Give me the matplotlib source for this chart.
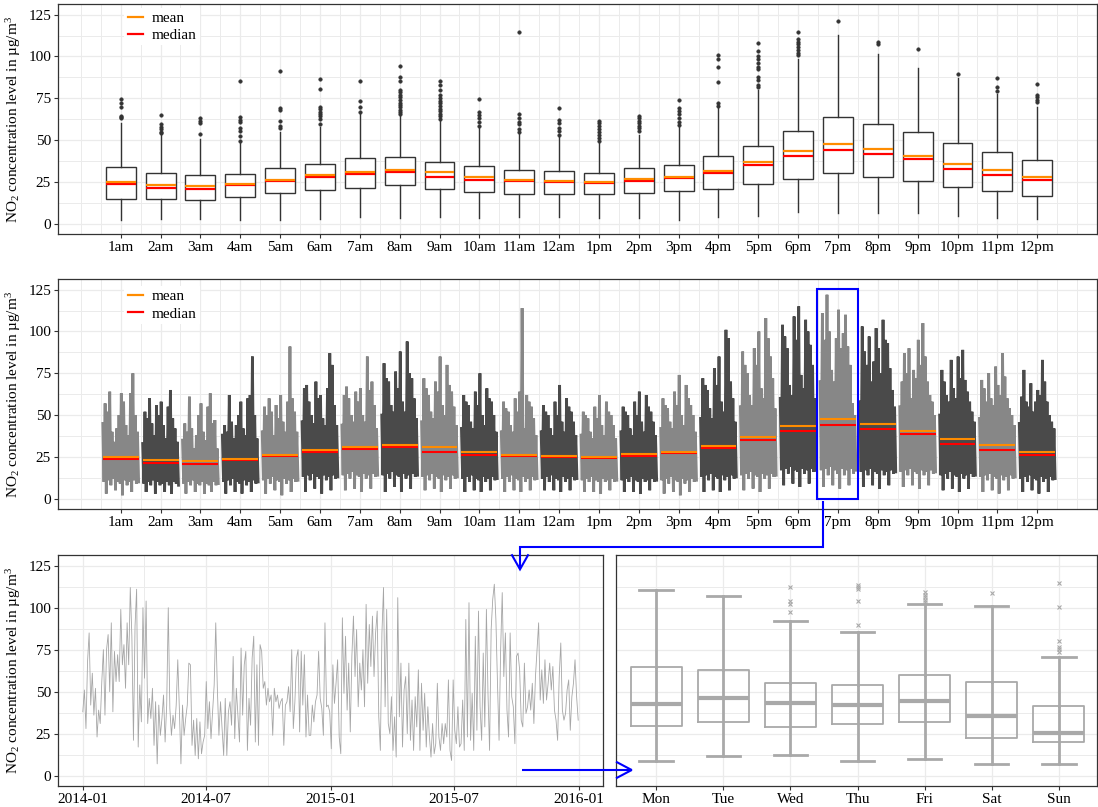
import numpy as np
import pandas as pd
import matplotlib
matplotlib.use('Agg')
import matplotlib.pyplot as plt
import matplotlib.dates as mdates
from matplotlib.lines import Line2D
from matplotlib.patches import Rectangle

plt.rcParams['font.family'] = ['Liberation Serif', 'DejaVu Serif']
plt.rcParams['mathtext.fontset'] = 'custom'
plt.rcParams['mathtext.rm'] = 'Liberation Serif'
plt.rcParams['mathtext.it'] = 'Liberation Serif:italic'

# ---------------- data ----------------
hours = ['1am', '2am', '3am', '4am', '5am', '6am', '7am', '8am', '9am', '10am', '11am', '12am',
         '1pm', '2pm', '3pm', '4pm', '5pm', '6pm', '7pm', '8pm', '9pm', '10pm', '11pm', '12pm']

hour_whislo = [2.0, 2.6, 3.0, 2.4, 2.2, 3.0, 4.2, 3.4, 4.0, 3.6, 3.8, 4.0,
               3.2, 3.2, 2.4, 4.0, 4.4, 7.0, 6.4, 6.2, 6.4, 4.4, 3.4, 2.8]
hour_q1 = [14.9, 14.5, 14.1, 15.9, 18.3, 19.9, 21.3, 23.1, 20.7, 18.9, 17.7, 17.7,
           17.9, 18.3, 19.5, 20.5, 23.7, 26.7, 30.3, 28.2, 25.5, 21.9, 19.3, 16.5]
hour_median = [23.7, 21.1, 20.5, 22.9, 25.5, 27.7, 29.7, 30.6, 28.2, 26.1, 25.3, 25.1,
               24.5, 25.7, 27.3, 30.3, 34.8, 40.2, 44.2, 41.8, 38.4, 32.8, 28.8, 25.9]
hour_mean = [25.1, 23.1, 22.3, 23.7, 26.3, 29.1, 30.9, 32.2, 30.6, 27.7, 26.1, 25.3,
             24.9, 26.5, 28.2, 31.6, 36.8, 43.6, 47.8, 44.8, 40.6, 35.8, 31.8, 28.2]
hour_q3 = [33.8, 30.3, 29.1, 29.7, 33.3, 35.6, 39.0, 39.8, 36.8, 34.4, 32.2, 31.4,
           30.3, 33.0, 35.2, 40.4, 46.2, 55.3, 63.5, 59.5, 54.7, 48.2, 43.0, 38.2]
hour_whishi = [60.1, 53.1, 50.9, 48.6, 55.1, 57.9, 65.5, 64.5, 62.1, 57.1, 54.1, 52.1,
               48.2, 53.1, 58.1, 69.7, 80.0, 98.3, 112.7, 101.3, 93.3, 87.4, 77.4, 70.0]
hour_outliers = [
    [63.3, 63.7, 64.5, 69.5, 72.1, 74.6],
    [54.4, 55.1, 56.7, 58.1, 59.5, 64.7],
    [53.5, 60.1, 61.7, 63.1],
    [49.7, 52.5, 55.7, 57.1, 60.7, 62.1, 63.7, 85.2],
    [57.5, 58.7, 61.5, 67.7, 69.1, 91.4],
    [59.7, 62.5, 64.1, 65.7, 67.0, 68.4, 69.7, 80.8, 86.6],
    [66.7, 70.0, 73.6, 85.2],
    [65.5, 66.8, 68.0, 69.5, 71.0, 72.4, 74.0, 75.5, 76.8, 78.6, 80.2, 85.6, 88.0, 94.5],
    [62.8, 64.2, 65.8, 67.2, 68.8, 70.4, 72.0, 73.6, 75.2, 77.0, 80.0, 83.0, 85.4],
    [58.5, 61.0, 63.0, 65.0, 66.7, 74.8],
    [54.8, 56.5, 59.5, 61.0, 63.3, 65.3, 114.4],
    [53.0, 55.5, 57.5, 60.5, 62.1, 68.9],
    [49.2, 51.0, 52.8, 54.6, 56.4, 58.2, 60.0, 61.5],
    [55.7, 57.0, 58.5, 60.0, 61.5, 63.0, 64.1],
    [58.9, 61.0, 63.2, 65.5, 67.4, 69.1, 74.0],
    [70.5, 72.1, 85.0, 93.6, 98.3, 100.9],
    [81.5, 82.9, 85.9, 87.9, 92.5, 93.9, 95.9, 98.3, 100.3, 103.3, 107.9],
    [100.7, 102.3, 103.9, 105.5, 107.3, 108.9, 110.4, 114.5],
    [121.2],
    [107.3, 108.7],
    [104.3],
    [89.8],
    [79.4, 81.6, 87.0],
    [72.7, 74.0, 75.5, 77.0, 83.4],
]

# per-hour daily series envelope (upper / lower samples across 2014-2015)
hour_series_hi = [
    [45, 57, 52, 64, 40, 34, 42, 50, 63, 58, 44, 38, 63, 75, 50, 40],
    [33, 52, 48, 60, 45, 38, 56, 50, 58, 44, 36, 55, 65, 48, 42, 34],
    [35, 45, 40, 61, 42, 30, 38, 50, 57, 40, 35, 55, 63, 45, 47, 30],
    [38, 44, 40, 62, 46, 36, 44, 50, 58, 42, 38, 60, 62, 85, 50, 36],
    [40, 55, 50, 60, 52, 38, 56, 48, 62, 46, 40, 58, 91, 60, 52, 40],
    [46, 66, 68, 58, 50, 45, 70, 60, 62, 48, 44, 66, 87, 80, 56, 44],
    [44, 62, 67, 60, 50, 46, 64, 58, 66, 50, 46, 85, 65, 70, 56, 42],
    [50, 81, 72, 70, 56, 52, 76, 66, 88, 58, 52, 94, 75, 72, 60, 48],
    [46, 72, 66, 62, 52, 48, 70, 64, 85, 56, 50, 80, 68, 64, 55, 44],
    [42, 62, 58, 56, 46, 42, 64, 56, 75, 50, 44, 66, 60, 58, 50, 40],
    [40, 58, 54, 52, 44, 40, 60, 52, 64, 114, 42, 62, 58, 55, 48, 38],
    [40, 56, 52, 50, 42, 38, 58, 50, 68, 46, 40, 60, 55, 52, 46, 38],
    [38, 52, 50, 48, 40, 36, 55, 48, 62, 44, 38, 58, 52, 50, 44, 36],
    [40, 55, 52, 50, 42, 38, 58, 50, 64, 46, 40, 62, 55, 52, 46, 38],
    [42, 60, 56, 54, 46, 42, 64, 56, 74, 50, 44, 68, 60, 56, 50, 40],
    [48, 72, 68, 65, 54, 48, 78, 68, 85, 58, 52, 101, 96, 70, 60, 46],
    [55, 88, 80, 75, 62, 56, 90, 80, 100, 66, 60, 108, 96, 85, 72, 54],
    [60, 104, 97, 90, 68, 62, 109, 95, 115, 74, 66, 107, 100, 92, 80, 60],
    [70, 111, 95, 122, 100, 77, 70, 96, 113, 90, 99, 110, 91, 80, 57, 50],
    [58, 103, 88, 80, 97, 70, 82, 102, 90, 75, 107, 95, 93, 78, 65, 55],
    [55, 70, 87, 75, 90, 60, 77, 72, 95, 80, 105, 85, 70, 62, 58, 50],
    [50, 77, 70, 62, 58, 83, 66, 60, 85, 72, 89, 71, 64, 58, 52, 46],
    [48, 71, 66, 58, 75, 60, 56, 79, 68, 62, 87, 73, 60, 54, 50, 44],
    [45, 61, 77, 58, 55, 69, 52, 58, 65, 62, 83, 70, 58, 50, 46, 42],
]
hour_series_lo = [
    [10, 3, 11, 8, 12, 5, 10, 9, 2, 11, 8, 10, 4, 11, 9, 10],
    [9, 4, 10, 8, 11, 3, 10, 8, 9, 4, 10, 8, 3, 10, 9, 8],
    [9, 3, 10, 8, 11, 4, 9, 8, 10, 3, 9, 8, 4, 10, 8, 9],
    [10, 3, 11, 8, 12, 4, 10, 9, 3, 11, 8, 10, 4, 11, 9, 10],
    [11, 3, 12, 9, 13, 5, 11, 10, 2, 12, 9, 11, 4, 12, 10, 11],
    [13, 4, 14, 11, 15, 6, 13, 12, 3, 14, 11, 13, 5, 14, 12, 13],
    [14, 5, 15, 12, 16, 6, 14, 13, 4, 15, 12, 14, 6, 15, 13, 14],
    [14, 4, 15, 12, 16, 7, 14, 13, 4, 15, 12, 14, 6, 15, 13, 14],
    [13, 5, 14, 11, 15, 6, 13, 12, 4, 14, 11, 13, 6, 14, 12, 13],
    [12, 4, 13, 10, 14, 5, 12, 11, 4, 13, 10, 12, 5, 13, 11, 12],
    [12, 4, 13, 10, 14, 5, 12, 11, 4, 13, 10, 12, 5, 13, 11, 12],
    [12, 5, 13, 10, 14, 5, 12, 11, 4, 13, 10, 12, 5, 13, 11, 12],
    [11, 4, 12, 10, 13, 4, 11, 10, 3, 12, 10, 11, 5, 12, 10, 11],
    [11, 4, 12, 10, 13, 4, 11, 10, 3, 12, 10, 11, 5, 12, 10, 11],
    [11, 3, 12, 9, 13, 4, 11, 10, 2, 12, 9, 11, 4, 12, 10, 11],
    [13, 4, 14, 11, 15, 5, 13, 12, 4, 14, 11, 13, 5, 14, 12, 13],
    [14, 5, 15, 12, 16, 6, 14, 13, 4, 15, 12, 14, 6, 15, 13, 14],
    [17, 8, 18, 15, 19, 9, 17, 16, 7, 18, 15, 17, 9, 18, 16, 17],
    [17, 7, 18, 14, 19, 8, 17, 15, 6, 18, 14, 17, 8, 18, 15, 17],
    [16, 7, 17, 14, 18, 8, 16, 15, 6, 17, 14, 16, 8, 17, 15, 16],
    [16, 7, 17, 14, 18, 8, 16, 15, 6, 17, 14, 16, 8, 17, 15, 16],
    [14, 5, 15, 12, 16, 6, 14, 13, 4, 15, 12, 14, 6, 15, 13, 14],
    [13, 4, 14, 11, 15, 5, 13, 12, 3, 14, 11, 13, 5, 14, 12, 13],
    [12, 4, 13, 10, 14, 5, 12, 11, 3, 13, 10, 12, 4, 13, 11, 12],
]

# 7pm daily series 2014-01-01 .. 2015-12-31 (sampled)
ts_start = '2014-01-01'
ts_end = '2015-12-31'
ts_values = [
    38, 51, 28, 68, 85, 42, 61, 36, 52, 23, 39, 31, 56, 75, 36, 75, 84, 50, 91, 38,
    74, 56, 72, 56, 99, 66, 78, 52, 91, 66, 112, 83, 21, 89, 111, 17, 54, 32, 100, 58,
    104, 31, 46, 34, 52, 18, 44, 7, 42, 24, 34, 48, 20, 42, 100, 40, 24, 36, 28, 42,
    69, 40, 7, 42, 24, 34, 42, 67, 66, 18, 33, 12, 34, 10, 32, 13, 20, 24, 56, 28,
    44, 22, 38, 54, 91, 52, 24, 44, 28, 12, 46, 12, 38, 44, 30, 71, 22, 52, 36, 20,
    76, 36, 66, 74, 15, 46, 30, 70, 83, 20, 66, 18, 78, 74, 52, 56, 42, 52, 44, 48,
    24, 52, 44, 48, 40, 44, 46, 18, 42, 44, 53, 38, 75, 28, 44, 70, 75, 26, 74, 42,
    72, 23, 48, 24, 24, 42, 32, 44, 48, 74, 46, 40, 24, 91, 41, 42, 38, 16, 66,
    43, 55, 69, 23, 13, 94, 49, 83, 39, 67, 26, 71, 95, 59, 87, 41, 67, 51, 75, 41,
    102, 55, 90, 65, 95, 59, 85, 98, 35, 15, 85, 112, 41, 99, 31, 25, 47, 15, 35, 11,
    106, 35, 67, 17, 51, 59, 25, 67, 21, 45, 15, 47, 29, 63, 15, 55, 27, 49, 17, 41,
    23, 11, 31, 13, 19, 55, 23, 15, 31, 19, 31, 23, 57, 15, 9, 57, 27, 19, 41, 17,
    19, 45, 15, 93, 23, 103, 21, 49, 15, 83, 27, 98, 41, 21, 73, 29, 99, 49, 15, 87,
    105, 114, 93, 55, 21, 75, 109, 59, 85, 39, 23, 85, 47, 41, 19, 71, 73, 63, 33, 29,
    67, 37, 41, 51, 39, 55, 31, 59, 75, 91, 45, 63, 43, 69, 45, 55, 67, 51, 65, 39,
    33, 21, 59, 79, 39, 33, 37, 51, 57, 27, 47, 55, 69, 47, 33,
]

# 7pm by weekday
weekdays = ['Mon', 'Tue', 'Wed', 'Thu', 'Fri', 'Sat', 'Sun']
wd_whislo = [8.9, 11.5, 12.1, 8.9, 9.9, 6.9, 6.9]
wd_q1 = [29.8, 31.8, 29.0, 30.6, 31.8, 22.2, 20.3]
wd_median = [42.7, 46.1, 43.1, 42.3, 44.3, 35.4, 25.6]
wd_q3 = [64.4, 62.8, 54.9, 54.0, 60.0, 55.6, 41.5]
wd_whishi = [110.5, 106.7, 92.2, 85.6, 102.0, 101.0, 70.4]
wd_outliers = [
    [],
    [],
    [97.6, 102.5, 104.1, 112.3],
    [89.6, 104.1, 110.9, 112.5, 113.5],
    [103.2, 104.5, 106.1, 107.7, 109.3],
    [108.7],
    [73.7, 75.3, 76.7, 80.3, 100.6, 114.5],
]

# ---------------- figure ----------------
W, H = 1098, 807
fig = plt.figure(figsize=(W / 100, H / 100), dpi=100)


def add_ax(l, t, r, b):
    return fig.add_axes([l / W, 1 - b / H, (r - l) / W, (b - t) / H])


ax1 = add_ax(58, 4, 1097, 234)
ax2 = add_ax(58, 279, 1097, 509)
ax3 = add_ax(58, 555, 603, 786)
ax4 = add_ax(616, 555, 1097, 786)

EDGE = '#333333'
GRID = '#EBEBEB'
ylabel = r'NO$_2$ concentration level in µg/m$^3$'
FS = 11


def style(ax):
    ax.set_axisbelow(True)
    for s in ax.spines.values():
        s.set_color(EDGE)
        s.set_linewidth(0.9)
    ax.tick_params(which='major', direction='out', length=3, width=0.8, color=EDGE,
                   labelsize=FS, labelcolor='black', pad=2)
    ax.tick_params(which='minor', length=0)
    ax.grid(which='major', color=GRID, lw=0.9)
    ax.grid(which='minor', color=GRID, lw=0.7)
    ax.set_ylim(-6.2, 131.4)
    ax.set_yticks([0, 25, 50, 75, 100, 125])
    ax.set_yticks(np.arange(12.5, 125, 25), minor=True)


pos = np.arange(1, len(hours) + 1)

# top: boxplots
stats = []
for i in range(len(hours)):
    stats.append(dict(med=hour_median[i], q1=hour_q1[i], q3=hour_q3[i],
                      whislo=hour_whislo[i], whishi=hour_whishi[i],
                      fliers=hour_outliers[i], mean=hour_mean[i]))
ax1.bxp(stats, positions=pos, widths=0.75, showcaps=False, showmeans=True, meanline=True,
        patch_artist=True, manage_ticks=False,
        boxprops=dict(facecolor='white', edgecolor=EDGE, linewidth=1.0),
        whiskerprops=dict(color=EDGE, linewidth=1.0),
        medianprops=dict(color='#FF0000', linewidth=1.6),
        meanprops=dict(color='#FF8C00', linewidth=1.6, linestyle='-'),
        flierprops=dict(marker='o', markersize=2.6, markerfacecolor=EDGE,
                        markeredgecolor=EDGE, markeredgewidth=0.3))

# middle: per-hour series blocks
for i in range(len(hours)):
    hi = hour_series_hi[i]
    lo = hour_series_lo[i]
    zig = np.ravel(np.column_stack([hi, lo]))
    xs = np.linspace(pos[i] - 0.45, pos[i] + 0.45, len(zig))
    col = '#878787' if i % 2 == 0 else '#4A4A4A'
    ax2.plot(xs, zig, color=col, lw=2.0, solid_joinstyle='miter', zorder=2)
ax2.hlines(hour_median, pos - 0.45, pos + 0.45, color='#FF0000', lw=1.5, zorder=3)
ax2.hlines(hour_mean, pos - 0.45, pos + 0.45, color='#FF8C00', lw=1.5, zorder=3)
ax2.add_patch(Rectangle((18.47, -0.4), 1.03, 125.8, fill=False, ec='#0000FF', lw=1.5,
                        zorder=5, clip_on=False))

for ax in (ax1, ax2):
    style(ax)
    ax.set_xlim(-0.574, 25.5)
    ax.set_xticks(pos)
    ax.set_xticklabels(hours)
    ax.set_xticks(np.arange(0, 25.6, 0.5), minor=True)
    ax.set_ylabel(ylabel, fontsize=FS, labelpad=4)

for ax, yy in ((ax1, 0.982), (ax2, 0.968)):
    handles = [Line2D([], [], color='#FF8C00', lw=1.6), Line2D([], [], color='#FF0000', lw=1.6)]
    ax.legend(handles, ['mean', 'median'], loc='upper left', bbox_to_anchor=(0.064, yy),
              fontsize=FS, frameon=True, fancybox=False, framealpha=1, edgecolor='none',
              facecolor='white', handlelength=1.0, handletextpad=0.6, borderpad=0.2,
              labelspacing=0.25, borderaxespad=0)

# bottom-left: daily time series
dates = pd.date_range(ts_start, ts_end, periods=len(ts_values))
style(ax3)
ax3.plot(dates, ts_values, color='#A6A6A6', lw=0.6)
ax3.set_xlim(pd.Timestamp(ts_start) - pd.Timedelta(days=36.5),
             pd.Timestamp(ts_end) + pd.Timedelta(days=36.5))
ax3.xaxis.set_major_locator(mdates.MonthLocator(bymonth=[1, 7]))
ax3.xaxis.set_major_formatter(mdates.DateFormatter('%Y-%m'))
ax3.xaxis.set_minor_locator(mdates.MonthLocator(bymonth=[4, 10]))
ax3.set_ylabel(ylabel, fontsize=FS, labelpad=4)

# bottom-right: weekday boxplots
style(ax4)
wpos = np.arange(1, len(weekdays) + 1)
wstats = []
for i in range(len(weekdays)):
    wstats.append(dict(med=wd_median[i], q1=wd_q1[i], q3=wd_q3[i], whislo=wd_whislo[i],
                       whishi=wd_whishi[i], fliers=wd_outliers[i]))
GR = '#A9A9A9'
ax4.vlines(wpos, wd_q1, wd_q3, color=GR, lw=2.0, zorder=2)
ax4.bxp(wstats, positions=wpos, widths=0.76, capwidths=0.5, showcaps=True, manage_ticks=False,
        boxprops=dict(color=GR, linewidth=1.3),
        whiskerprops=dict(color=GR, linewidth=2.0),
        capprops=dict(color=GR, linewidth=2.0),
        medianprops=dict(color=GR, linewidth=3.0),
        flierprops=dict(marker='x', markersize=3.5, markeredgecolor=GR, markeredgewidth=0.8))
ax4.set_xlim(0.4, 7.57)
ax4.set_xticks(wpos)
ax4.set_xticklabels(weekdays)
ax4.tick_params(axis='y', which='both', length=0, labelleft=False)
ax4.grid(which='minor', axis='x', visible=False)


# blue connector arrows (figure pixel coordinates)
def fp(x, y):
    return x / W, 1 - y / H


def fig_line(pts):
    xs, ys = zip(*[fp(x, y) for x, y in pts])
    fig.add_artist(Line2D(xs, ys, transform=fig.transFigure, color='#0000FF', lw=1.5,
                          solid_capstyle='butt', solid_joinstyle='miter', zorder=10))


fig_line([(823.3, 500.5), (823.3, 546.7), (520, 546.7), (520, 569.3)])
fig_line([(511.5, 554.3), (520, 569.3), (528.5, 554.3)])
fig_line([(521.7, 770), (631.7, 770)])
fig_line([(616, 761.7), (631.7, 770), (616, 778.3)])

fig.savefig('out.png', dpi=100)
